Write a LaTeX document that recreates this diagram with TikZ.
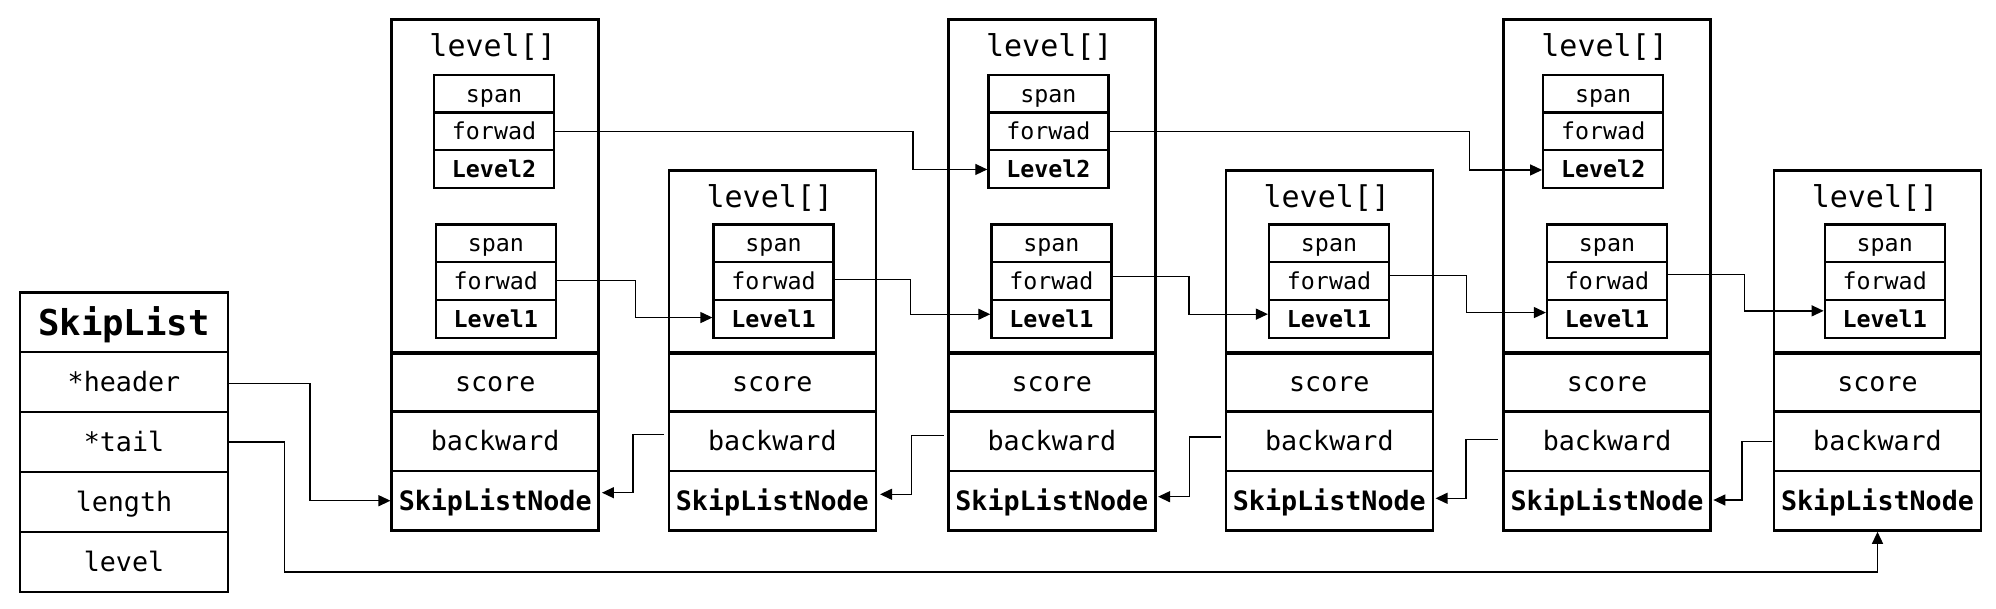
\documentclass[tikz,border=0pt]{standalone}
\usepackage{fontspec}
\newfontfamily\dvm{DejaVu Sans Mono}
\usetikzlibrary{arrows.meta,calc}
\tikzset{
  rowbox/.style={draw, line width=2.5pt, inner sep=0pt, minimum width=207pt, minimum height=59.7pt,
    font=\dvm\fontsize{26.7}{30}\selectfont, text height=19.5pt, text depth=0pt},
  rowboxb/.style={rowbox, font=\dvm\bfseries\fontsize{26.7}{30}\selectfont},
  slrow/.style={rowbox, minimum width=208pt, minimum height=59.9pt},
  sltitle/.style={slrow, font=\dvm\bfseries\fontsize{35.6}{40}\selectfont, text height=26pt},
  cell/.style={draw, line width=2.2pt, inner sep=0pt, minimum width=120pt, minimum height=37.7pt,
    font=\dvm\fontsize{23.3}{26}\selectfont, text height=17pt, text depth=0pt},
  cellb/.style={cell, font=\dvm\bfseries\fontsize{23.3}{26}\selectfont},
  frame/.style={draw, line width=2.5pt, inner sep=0pt, minimum width=207pt, anchor=north},
  lvl/.style={font=\dvm\fontsize{30}{34}\selectfont, anchor=base, inner sep=0pt},
  conn/.style={line width=1.3pt, -{Triangle[length=12pt,width=11pt]}},
}
\newcommand{\slnode}[3]{%
  \node[frame, minimum height={352.3-#3}] (#1) at (#2,#3) {};
  \node[lvl] (#1t) at (#2-2.5,#3+38.5) {level[]};
  \node[rowbox] (#1sc) at (#2,381.7) {score};
  \node[rowbox] (#1bw) at (#2,440.9) {backward};
  \node[rowboxb] (#1sn) at (#2,500.7) {SkipListNode};
}
\newcommand{\lvcells}[4]{%
  \node[cell] (#1s) at (#2,#3+18.85) {span};
  \node[cell] (#1f) at (#2,#3+56.55) {forwad};
  \node[cellb] (#1l) at (#2,#3+94.25) {#4};
}
\begin{document}
\begin{tikzpicture}[x=1pt, y=-1pt]
  \useasboundingbox (0,0) rectangle (1996,608);
  % SkipList
  \node[sltitle] (sk) at (124,322.25) {SkipList};
  \node[slrow] (skh) at (124,382.15) {*header};
  \node[slrow] (skt) at (124,442.05) {*tail};
  \node[slrow] (skl) at (124,501.95) {length};
  \node[slrow] (skv) at (124,561.85) {level};
  % nodes
  \slnode{n1}{495.2}{18.3}
  \slnode{n2}{772.3}{169.3}
  \slnode{n3}{1051.8}{18.3}
  \slnode{n4}{1329.3}{169.3}
  \slnode{n5}{1607.1}{18.3}
  \slnode{n6}{1877.5}{169.3}
  % level cells
  \lvcells{n1b}{494}{74.7}{Level2}
  \lvcells{n3b}{1048.4}{74.7}{Level2}
  \lvcells{n5b}{1603.2}{74.7}{Level2}
  \lvcells{n1a}{495.8}{224.5}{Level1}
  \lvcells{n2a}{773.5}{224.5}{Level1}
  \lvcells{n3a}{1051.4}{224.5}{Level1}
  \lvcells{n4a}{1329}{224.5}{Level1}
  \lvcells{n5a}{1607}{224.5}{Level1}
  \lvcells{n6a}{1884.7}{224.5}{Level1}
  % header and tail
  \draw[conn] ($(skh.east)+(0,1.5)$) -- ++(80.7,0) |- (n1sn.west);
  \draw[conn] (skt.east) -- ++(55,0) |- ($(n6sn.south)+(0,40.3)$) -- (n6sn.south);
  % level2 forwards
  \draw[conn] (n1bf.east) -- ++(358,0) |- ($(n3bl.west)+(0,0.5)$);
  \draw[conn] ($(n3bf.east)+(0,0.5)$) -- ++(360.3,0) |- ($(n5bl.west)+(0,1)$);
  % level1 forwards
  \draw[conn] ($(n1af.east)+(0,-0.4)$) -- ++(78.3,0) |- ($(n2al.west)+(0,-1.2)$);
  \draw[conn] ($(n2af.east)+(-2,-1.8)$) -- ++(77.6,0) |- ($(n3al.west)+(0,-4.5)$);
  \draw[conn] ($(n3af.east)+(-1,-4.4)$) -- ++(77.5,0) |- ($(n4al.west)+(0,-4.6)$);
  \draw[conn] ($(n4af.east)+(-2,-5.4)$) -- ++(78.7,0) |- ($(n5al.west)+(0,-6.2)$);
  \draw[conn] ($(n5af.east)+(-1.5,-6.8)$) -- ++(77.6,0) |- ($(n6al.west)+(0,-7.9)$);
  % backward
  \draw[conn] ($(n2bw.west)+(-3.5,-6.6)$) -- ++(-31,0) |- ($(n1sn.east)+(2,-8)$);
  \draw[conn] ($(n3bw.west)+(-3.5,-5.2)$) -- ++(-31.8,0) |- ($(n2sn.east)+(3,-6.4)$);
  \draw[conn] ($(n4bw.west)+(-3.5,-3.9)$) -- ++(-31.8,0) |- ($(n3sn.east)+(1.5,-4)$);
  \draw[conn] ($(n5bw.west)+(-4.5,-1.6)$) -- ++(-32,0) |- ($(n4sn.east)+(1.5,-2.4)$);
  \draw[conn] ($(n6bw.west)+(-0.5,0.4)$) -- ++(-30.3,0) |- ($(n5sn.east)+(1.5,-0.7)$);
\end{tikzpicture}
\end{document}
